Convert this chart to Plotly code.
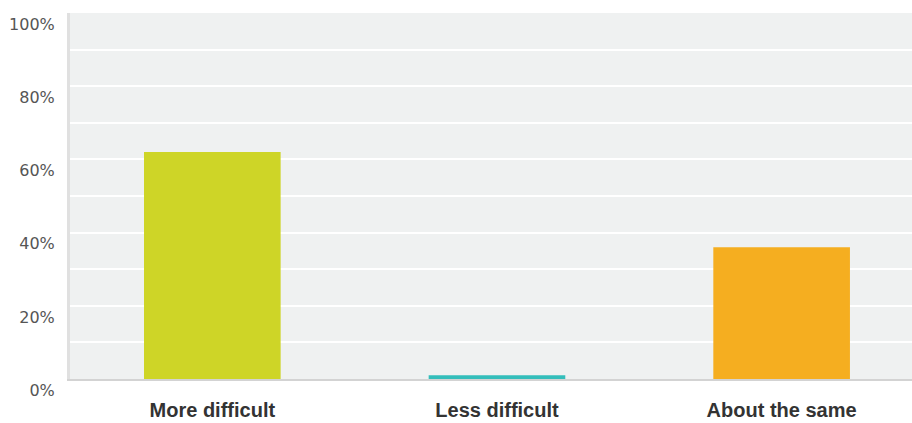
import plotly.graph_objects as go

# Survey answers and the share of respondents for each
categories = ["More difficult", "Less difficult", "About the same"]
shares = [62, 1, 36]
bar_colors = ["#CED527", "#34BEBB", "#F5AE20"]
y_ticks = [0, 20, 40, 60, 80, 100]
y_tick_labels = ["0%", "20%", "40%", "60%", "80%", "100%"]

fig = go.Figure(
    go.Bar(
        x=categories,
        y=shares,
        width=0.48,
        marker=dict(color=bar_colors, line=dict(width=0)),
        hovertemplate="%{x}: %{y}%<extra></extra>",
    )
)

fig.update_layout(
    width=912,
    height=423,
    margin=dict(l=70, r=0, t=13, b=44),
    paper_bgcolor="white",
    plot_bgcolor="#EFF1F1",
    showlegend=False,
    bargap=0.52,
)

fig.update_xaxes(
    range=[-0.5, 2.458],
    automargin=False,
    showgrid=False,
    showline=True,
    linecolor="#D3D3D3",
    linewidth=2,
    ticks="",
    ticklabelstandoff=12,
    tickfont=dict(family="Liberation Sans", size=20, color="#333333", weight="bold"),
)

fig.update_yaxes(
    range=[0, 100],
    automargin=False,
    tickvals=y_ticks,
    ticktext=y_tick_labels,
    showgrid=True,
    gridcolor="white",
    gridwidth=2,
    minor=dict(dtick=10, showgrid=True, gridcolor="white", gridwidth=2),
    showline=True,
    linecolor="#E0E0E0",
    linewidth=3,
    zeroline=False,
    ticks="",
    ticklabelposition="outside bottom",
    ticklabelstandoff=9,
    tickfont=dict(family="DejaVu Sans", size=16, color="#555555"),
)

fig.write_html("out.html")
